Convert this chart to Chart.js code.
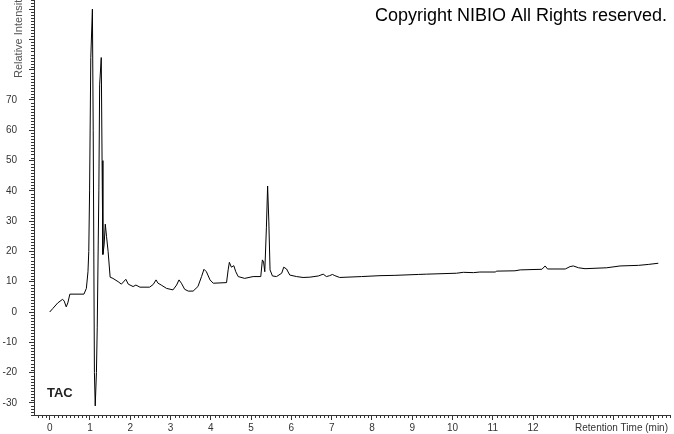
<!DOCTYPE html>
<html>
<head>
<meta charset="utf-8">
<script src="https://cdn.jsdelivr.net/npm/chart.js@4/dist/chart.umd.min.js"></script>
<style>
  html, body { margin: 0; padding: 0; background: #fff; }
  #wrap { width: 674px; height: 434px; }
</style>
</head>
<body>
<div id="wrap"><canvas id="tacChart" width="674" height="434"></canvas></div>
<script>
// ------ DATA ------
const retentionTimes = [
  0.00, 0.08, 0.20, 0.32, 0.36, 0.41, 0.45, 0.50, 0.85, 0.91, 0.95, 0.97, 0.99,
  1.02, 1.06, 1.08, 1.11, 1.13, 1.16, 1.18, 1.22, 1.24, 1.28, 1.30, 1.32,
  1.35, 1.38, 1.41, 1.45, 1.50, 1.57, 1.70, 1.78, 1.89, 1.95, 2.07, 2.14, 2.24,
  2.48, 2.57, 2.64, 2.69, 2.77, 2.90, 3.06, 3.15, 3.21, 3.27, 3.35, 3.44, 3.56,
  3.68, 3.77, 3.83, 3.89, 3.98, 4.06, 4.39, 4.43, 4.46, 4.51, 4.57, 4.62, 4.68,
  4.84, 5.05, 5.24, 5.28, 5.31, 5.34, 5.38, 5.41, 5.44, 5.47, 5.53, 5.63, 5.76,
  5.81, 5.88, 5.96, 6.13, 6.29, 6.46, 6.67, 6.79, 6.87, 6.95, 7.02, 7.08, 7.20,
  7.74, 8.20, 8.57, 9.15, 9.36, 10.10, 10.27, 10.52, 10.68, 11.06, 11.10, 11.55,
  11.68, 12.22, 12.30, 12.36, 12.80, 12.92, 13.00, 13.13, 13.29, 13.83, 14.16,
  14.62, 14.86, 15.11
];
const intensities = [
  0.0, 1.2, 3.0, 4.2, 3.6, 1.7, 3.0, 5.9, 5.9, 7.8, 13.3, 20, 40,
  84, 100, 60, -20, -31, -20, -5, 40, 75, 84, 50, 19,
  22, 29, 25, 20, 11.5, 11.1, 10.0, 9.2, 10.8, 9.2, 8.4, 8.9, 8.2,
  8.2, 9.1, 10.6, 9.5, 8.9, 7.8, 7.3, 8.9, 10.6, 9.5, 7.5, 6.9, 6.9,
  8.4, 11.7, 14.1, 13.3, 10.6, 9.5, 9.7, 13.9, 16.4, 14.8, 15.3, 13.3, 11.7,
  11.1, 11.7, 11.7, 17.2, 16.5, 13.3, 28, 41.6, 30, 13.9, 11.9, 11.7, 12.8,
  14.8, 14.2, 12.2, 11.7, 11.4, 11.5, 11.9, 12.5, 11.7, 12.0, 12.4, 12.0, 11.4,
  11.7, 12.0, 12.1, 12.4, 12.5, 12.8, 13.1, 13.0, 13.2, 13.2, 13.5, 13.6,
  13.9, 14.1, 15.2, 14.2, 14.2, 15.0, 15.2, 14.6, 14.3, 14.6, 15.2,
  15.4, 15.7, 16.1
];
const xTickValues = [0, 1, 2, 3, 4, 5, 6, 7, 8, 9, 10, 11, 12, 13, 14, 15];
const yTickValues = [-30, -20, -10, 0, 10, 20, 30, 40, 50, 60, 70, 80, 90, 100];
const xLabelMax = 12;
const yLabelMax = 70;

const AXIS_COLOR = '#333';
const TEXT_COLOR = '#333';
const TICK_FONT = { family: 'Arial, "Liberation Sans", sans-serif', size: 10 };

// ------ minor ticks + free texts ------
const decorPlugin = {
  id: 'decor',
  afterDraw(chart) {
    const c = chart.ctx;
    const xs = chart.scales.x, ys = chart.scales.y;
    const area = chart.chartArea;
    c.save();
    c.strokeStyle = AXIS_COLOR;
    c.lineWidth = 1;
    c.beginPath();
    for (let i = Math.ceil(xs.min * 10); i <= Math.floor(xs.max * 10); i++) {
      if (i % 10 === 0) continue;
      const px = Math.round(xs.getPixelForValue(i / 10)) + 0.5;
      c.moveTo(px, area.bottom);
      c.lineTo(px, area.bottom + 3);
    }
    for (let j = Math.ceil(ys.min); j <= Math.floor(ys.max); j++) {
      if (j % 10 === 0) continue;
      const py = Math.round(ys.getPixelForValue(j)) + 0.5;
      c.moveTo(area.left - 3, py);
      c.lineTo(area.left, py);
    }
    c.stroke();

    // y axis title (runs past the top edge, like the original)
    c.fillStyle = '#555';
    c.font = '11px Arial, "Liberation Sans", sans-serif';
    c.save();
    c.translate(19, 78);
    c.rotate(-Math.PI / 2);
    c.textAlign = 'left';
    c.textBaseline = 'middle';
    c.fillText('Relative Intensity', 0, 0);
    c.restore();

    // x axis title
    c.fillStyle = TEXT_COLOR;
    c.font = '10px Arial, "Liberation Sans", sans-serif';
    c.textAlign = 'right';
    c.textBaseline = 'middle';
    c.fillText('Retention Time (min)', 668, 428);

    // copyright
    c.fillStyle = '#000';
    c.font = '18px Arial, "Liberation Sans", sans-serif';
    c.textAlign = 'right';
    c.textBaseline = 'alphabetic';
    c.fillText('Copyright NIBIO All Rights reserved.', 667, 21);

    // trace label
    c.fillStyle = '#222';
    c.font = 'bold 13px Arial, "Liberation Sans", sans-serif';
    c.textAlign = 'left';
    c.textBaseline = 'middle';
    c.fillText('TAC', 47, 393);
    c.restore();
  }
};

new Chart(document.getElementById('tacChart'), {
  type: 'scatter',
  data: {
    datasets: [{
      data: retentionTimes.map((t, i) => ({ x: t, y: intensities[i] })),
      showLine: true,
      borderColor: '#000',
      borderWidth: 1,
      pointRadius: 0,
      tension: 0
    }]
  },
  options: {
    responsive: false,
    animation: false,
    layout: { padding: { top: 0, right: 4, bottom: 0, left: 0 } },
    plugins: { legend: { display: false }, tooltip: { enabled: false } },
    scales: {
      x: {
        type: 'linear',
        min: -0.39,
        max: 15.4,
        afterBuildTicks: s => { s.ticks = xTickValues.map(v => ({ value: v })); },
        afterFit: s => { s.height = 19; s.paddingLeft = 0; s.paddingRight = 0; },
        grid: { drawOnChartArea: false, tickLength: 5, color: AXIS_COLOR },
        border: { color: AXIS_COLOR },
        ticks: {
          color: TEXT_COLOR, font: TICK_FONT, padding: 2, maxRotation: 0, autoSkip: false,
          callback: v => (v <= xLabelMax ? String(v) : '')
        }
      },
      y: {
        type: 'linear',
        min: -34,
        max: 103,
        afterBuildTicks: s => { s.ticks = yTickValues.map(v => ({ value: v })); },
        afterFit: s => { s.width = 34; s.paddingTop = 0; s.paddingBottom = 0; },
        grid: { drawOnChartArea: false, tickLength: 5, color: AXIS_COLOR },
        border: { color: AXIS_COLOR },
        ticks: {
          color: TEXT_COLOR, font: TICK_FONT, padding: 12, autoSkip: false,
          callback: v => (v <= yLabelMax ? String(v) : '')
        }
      }
    }
  },
  plugins: [decorPlugin]
});
</script>
</body>
</html>
